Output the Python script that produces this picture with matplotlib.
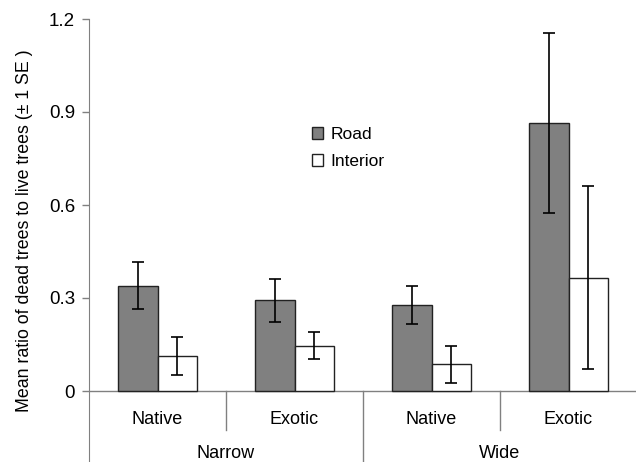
import numpy as np
import matplotlib.pyplot as plt

plt.rcParams['font.family'] = ['Liberation Sans', 'DejaVu Sans']

# -- data
sites = ['Narrow', 'Wide']
origins = ['Native', 'Exotic', 'Native', 'Exotic']
road_mean = [0.34, 0.292, 0.278, 0.865]
road_se = [0.075, 0.069, 0.061, 0.29]
interior_mean = [0.113, 0.146, 0.086, 0.366]
interior_se = [0.062, 0.043, 0.06, 0.295]

axis_col = '#808080'
W, H = 636, 462
fig = plt.figure(figsize=(W / 100, H / 100), dpi=100)

# axes spans y=19 (1.2) down to the bottom of the picture; 0 is at y=391
y0_px, ytop_px = 391, 19
per_px = 1.2 / (y0_px - ytop_px)
ymin = -(H - y0_px) * per_px
ax = fig.add_axes([89 / W, 0, 1 - 89 / W, 1 - ytop_px / H])

cat_px = 137
ncat = len(origins)
ax.set_xlim(0, (W - 89) / cat_px)
ax.set_ylim(ymin, 1.2)

x = np.arange(ncat) + 0.5
bw = 0.29
ax.bar(x - bw / 2, road_mean, bw, color='#808080', edgecolor='#222222', linewidth=1.0,
       label='Road', zorder=2)
ax.bar(x + bw / 2, interior_mean, bw, color='white', edgecolor='#222222', linewidth=1.0,
       label='Interior', zorder=2)
ax.errorbar(x - bw / 2, road_mean, yerr=road_se, fmt='none', ecolor='black',
            elinewidth=1.2, capsize=4, capthick=1.2, zorder=3)
ax.errorbar(x + bw / 2, interior_mean, yerr=interior_se, fmt='none', ecolor='black',
            elinewidth=1.2, capsize=4, capthick=1.2, zorder=3)

# -- axes styling
for s in ['top', 'right', 'bottom']:
    ax.spines[s].set_visible(False)
ax.spines['left'].set_color(axis_col)
ax.set_yticks([0, 0.3, 0.6, 0.9, 1.2])
ax.set_yticklabels(['0', '0.3', '0.6', '0.9', '1.2'], fontsize=13.5)
ax.tick_params(axis='y', color=axis_col, length=5, width=1, pad=5)
ax.set_xticks([])
ax.axhline(0, color=axis_col, lw=1, zorder=1)
ax.set_ylabel('Mean ratio of dead trees to live trees (± 1 SE )', fontsize=12.8)
ax.yaxis.set_label_coords(-0.102, (H - 231) / (H - ytop_px))

# -- category axis: separators and labels
lab_y1 = -(419 - y0_px) * per_px
lab_y2 = -(454 - y0_px) * per_px
sep_y = -(430 - y0_px) * per_px
for i in [1, 3]:
    ax.plot([i, i], [0, sep_y], color=axis_col, lw=1, clip_on=False)
ax.plot([2, 2], [0, ymin], color=axis_col, lw=1, clip_on=False)
for xi, lab in zip(x, origins):
    ax.text(xi, lab_y1, lab, ha='center', va='center', fontsize=13)
for i, lab in enumerate(sites):
    ax.text(1 + 2 * i, lab_y2, lab, ha='center', va='center', fontsize=13)

leg = ax.legend(loc='upper left', bbox_to_anchor=(0.408, (H - 127) / (H - ytop_px)),
                frameon=False, borderpad=0, borderaxespad=0,
                fontsize=12.5, handlelength=0.65, handleheight=0.65, handletextpad=0.4,
                labelspacing=0.7)

fig.savefig('out.png', dpi=100)
